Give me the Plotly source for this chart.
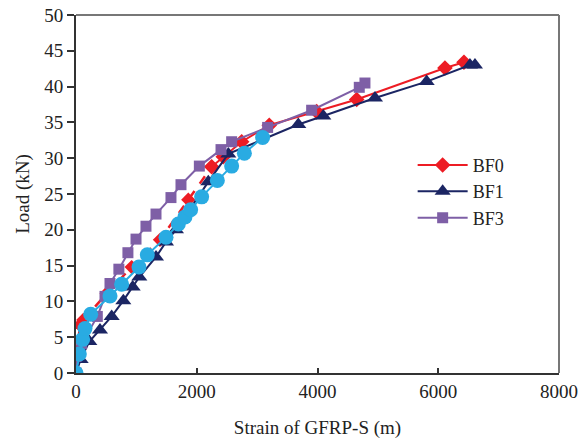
import plotly.graph_objects as go

# BF0 (red diamonds) - lower dashed part and upper solid part
bf0_low_x = [0, 20, 66, 121, 508, 922, 1391, 1860, 2247]
bf0_low_y = [0, 3.0, 6.7, 7.4, 11.1, 14.8, 18.6, 24.2, 28.8]
bf0_x = [2247, 2440, 2744, 3201, 3986, 4649, 6111, 6426]
bf0_y = [28.8, 30.2, 32.3, 34.6, 36.5, 38.2, 42.6, 43.4]

# BF1 (navy triangles)
bf1_x = [0, 77, 221, 397, 591, 784, 939, 1049, 1325, 1491, 1656, 2191, 2523, 3682, 4096, 4952, 5808, 6525, 6608]
bf1_y = [0, 1.9, 4.4, 6.0, 7.9, 10.1, 12.0, 13.4, 16.2, 18.3, 20.0, 26.7, 30.6, 34.7, 35.9, 38.4, 40.7, 43.0, 43.0]

# BF3 (purple squares)
bf3_x = [0, 0, 94, 353, 480, 563, 710, 860, 994, 1159, 1325, 1573, 1739, 2043, 2402, 2578, 3174, 3903, 4692, 4786]
bf3_y = [0, 2.3, 4.1, 7.9, 10.7, 12.5, 14.5, 16.8, 18.7, 20.5, 22.2, 24.5, 26.3, 28.9, 31.2, 32.3, 34.3, 36.7, 39.9, 40.5]

# Unlabelled cyan series (circles)
bf2_x = [0, 55, 110, 149, 243, 563, 756, 1043, 1181, 1491, 1695, 1805, 1899, 2081, 2341, 2578, 2789, 3091]
bf2_y = [0, 2.65, 4.7, 6.2, 8.2, 10.75, 12.4, 14.8, 16.5, 18.95, 20.8, 21.8, 22.8, 24.6, 26.9, 28.9, 30.7, 32.9]

x_ticks = [0, 2000, 4000, 6000, 8000]
y_ticks = [0, 5, 10, 15, 20, 25, 30, 35, 40, 45, 50]

RED = "#ED1C24"
NAVY = "#1B2563"
PURPLE = "#7E5FA6"
CYAN = "#29ABE2"

fig = go.Figure()

fig.add_trace(go.Scatter(x=bf0_low_x, y=bf0_low_y, mode="lines+markers", showlegend=False,
                         line=dict(color=RED, width=2.5, dash="dash"),
                         marker=dict(symbol="diamond", size=11, color=RED)))
fig.add_trace(go.Scatter(x=bf0_x, y=bf0_y, mode="lines+markers", name="BF0",
                         line=dict(color=RED, width=2),
                         marker=dict(symbol="diamond", size=12, color=RED)))
fig.add_trace(go.Scatter(x=bf1_x, y=bf1_y, mode="lines+markers", name="BF1",
                         line=dict(color=NAVY, width=2),
                         marker=dict(symbol="triangle-up", size=14, color=NAVY)))
fig.add_trace(go.Scatter(x=bf3_x, y=bf3_y, mode="lines+markers", name="BF3",
                         line=dict(color=PURPLE, width=2),
                         marker=dict(symbol="square", size=11, color=PURPLE)))
fig.add_trace(go.Scatter(x=bf2_x, y=bf2_y, mode="lines+markers", showlegend=False,
                         line=dict(color=CYAN, width=2),
                         marker=dict(symbol="circle", size=15, color=CYAN)))

font_family = "Liberation Serif"

fig.update_layout(
    width=579, height=442,
    margin=dict(l=76, r=20, t=15, b=69),
    plot_bgcolor="white", paper_bgcolor="white",
    font=dict(family=font_family, size=19, color="#222222"),
    showlegend=True,
    legend=dict(x=0.697, y=0.632, xanchor="left", yanchor="top",
                bgcolor="rgba(0,0,0,0)", font=dict(size=18, family=font_family),
                tracegroupgap=0, itemwidth=50),
    xaxis=dict(range=[0, 8000], tickvals=x_ticks, ticks="inside", ticklen=5,
               tickwidth=2, tickcolor="#333333", showline=True, linecolor="#333333",
               linewidth=2, showgrid=False, zeroline=False, automargin=False,
               title=dict(text="Strain of GFRP-S (m)", font=dict(size=19), standoff=20),
               tickfont=dict(size=19)),
    yaxis=dict(range=[0, 50], tickvals=y_ticks, ticks="outside", ticklen=7,
               tickwidth=2, tickcolor="#333333", showline=True, linecolor="#333333",
               linewidth=2, showgrid=False, zeroline=False, automargin=False,
               title=dict(text="Load (kN)", font=dict(size=19), standoff=10),
               tickfont=dict(size=19)),
)

# gray top and right frame lines
fig.add_shape(type="line", xref="paper", yref="paper", x0=0, x1=1, y0=1, y1=1,
              line=dict(color="#777777", width=2))
fig.add_shape(type="line", xref="paper", yref="paper", x0=1, x1=1, y0=0, y1=1,
              line=dict(color="#777777", width=2))

fig.write_html("out.html", config={"displayModeBar": False},
               post_script="document.body.style.margin='0';document.body.style.padding='0';")
